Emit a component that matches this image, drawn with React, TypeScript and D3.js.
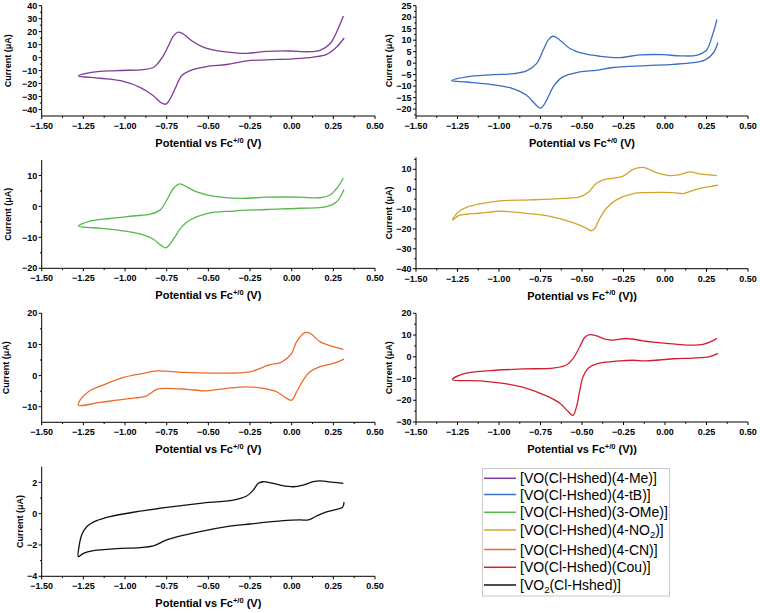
import React from 'react';
import * as d3 from 'd3';

const FONT = '"Liberation Sans", Arial, Helvetica, sans-serif';

// ---- Data: [potential (V vs Fc+/0), current (µA)] ----
const meUpper = [[-1.28,-14.1],[-1.21,-11.5],[-1.05,-10],[-0.89,-9.2],[-0.83,-7.6],[-0.8,-4],[-0.77,1.5],[-0.74,9],[-0.71,16.5],[-0.68,19.6],[-0.65,18.2],[-0.6,13],[-0.53,8],[-0.45,5.3],[-0.35,3.8],[-0.27,3.3],[-0.15,4.8],[-0.01,5.1],[0.09,4.5],[0.17,5.6],[0.23,10.7],[0.27,19.8],[0.31,32]];
const meLower = [[0.315,15.1],[0.27,8.2],[0.21,2.5],[0.13,0.4],[0.01,-0.9],[-0.15,-1.7],[-0.27,-2.5],[-0.39,-5.3],[-0.51,-6.9],[-0.61,-10],[-0.66,-14],[-0.7,-24],[-0.73,-32],[-0.755,-35.9],[-0.785,-34.6],[-0.83,-29.4],[-0.91,-22.9],[-1.01,-18.3],[-1.15,-15.9],[-1.28,-14.1]];

const tbUpper = [[-1.285,-7.6],[-1.195,-6.0],[-1.055,-5.1],[-0.914,-4.6],[-0.834,-3.4],[-0.774,-0.2],[-0.734,5.6],[-0.704,10],[-0.674,11.7],[-0.633,10],[-0.573,6.4],[-0.493,4.2],[-0.393,3.0],[-0.272,2.4],[-0.152,3.6],[-0.012,3.7],[0.089,3.2],[0.189,3.4],[0.249,5.6],[0.289,12.9],[0.313,19.0]];
const tbLower = [[0.319,9.0],[0.289,4.2],[0.239,1.3],[0.169,0.2],[0.049,-0.5],[-0.112,-1.1],[-0.312,-1.9],[-0.413,-3.1],[-0.513,-3.8],[-0.623,-6.3],[-0.674,-10.4],[-0.714,-16.2],[-0.748,-19.6],[-0.774,-18.4],[-0.834,-14.0],[-0.934,-10.7],[-1.055,-9.2],[-1.195,-8.2],[-1.285,-7.6]];

const omeUpper = [[-1.28,-6.4],[-1.22,-4.9],[-1.09,-3.9],[-0.95,-3.1],[-0.85,-2.5],[-0.79,-1.2],[-0.75,2.0],[-0.71,5.8],[-0.67,7.3],[-0.63,6.3],[-0.57,4.7],[-0.47,3.3],[-0.31,2.6],[-0.15,3.0],[0.05,3.0],[0.17,2.8],[0.23,3.7],[0.27,5.8],[0.31,9.2]];
const omeLower = [[0.314,5.5],[0.27,1.5],[0.21,-0.1],[0.05,-0.6],[-0.15,-1.0],[-0.35,-1.5],[-0.51,-2.3],[-0.61,-4.4],[-0.66,-6.6],[-0.71,-10.6],[-0.755,-13.4],[-0.785,-12.5],[-0.83,-10.6],[-0.91,-8.9],[-1.05,-7.6],[-1.19,-6.9],[-1.28,-6.4]];

const no2Upper = [[-1.28,-15.5],[-1.26,-12.8],[-1.23,-10.5],[-1.195,-9.1],[-1.115,-7.4],[-0.994,-5.9],[-0.814,-5.4],[-0.613,-4.6],[-0.513,-3.8],[-0.463,-1.7],[-0.413,3.0],[-0.363,5.0],[-0.313,5.5],[-0.252,6.6],[-0.192,10],[-0.132,11.0],[-0.052,8.3],[0.029,6.8],[0.089,7.3],[0.149,8.7],[0.209,7.7],[0.313,6.8]];
const no2Lower = [[0.319,2.1],[0.269,1.3],[0.209,0.4],[0.149,-1.2],[0.109,-2.2],[0.049,-1.7],[-0.032,-1.6],[-0.112,-1.7],[-0.192,-2.2],[-0.293,-5.4],[-0.353,-9.6],[-0.393,-14.7],[-0.423,-19.7],[-0.443,-20.9],[-0.483,-19.2],[-0.573,-16.3],[-0.714,-13.3],[-0.874,-11.8],[-0.994,-11.1],[-1.115,-12.1],[-1.195,-12.6],[-1.24,-13.2],[-1.28,-15.5]];

const cnUpper = [[-1.28,-9.5],[-1.27,-7.9],[-1.22,-5.2],[-1.13,-3.0],[-1.01,-0.6],[-0.89,0.7],[-0.81,1.5],[-0.65,1.0],[-0.45,0.8],[-0.25,1.2],[-0.19,2.3],[-0.13,3.5],[-0.07,4.1],[-0.03,5.5],[0.0,7.1],[0.03,10.9],[0.08,13.8],[0.11,13.6],[0.17,10.9],[0.25,9.3],[0.31,8.4]];
const cnLower = [[0.314,5.3],[0.25,3.9],[0.17,2.9],[0.11,1.2],[0.07,-1.4],[0.03,-5.2],[0.0,-7.9],[-0.03,-7.3],[-0.09,-5.2],[-0.17,-4.1],[-0.27,-3.6],[-0.39,-4.1],[-0.51,-4.9],[-0.63,-4.4],[-0.75,-4.1],[-0.81,-4.4],[-0.87,-6.5],[-0.99,-7.5],[-1.15,-8.6],[-1.28,-9.5]];

const couUpper = [[-1.28,-10.5],[-1.215,-7.9],[-1.055,-6.4],[-0.854,-5.6],[-0.674,-5.2],[-0.593,-3.8],[-0.553,-0.7],[-0.513,4.7],[-0.483,9.0],[-0.453,10.2],[-0.413,9.6],[-0.353,8.0],[-0.313,7.7],[-0.232,8.4],[-0.132,7.3],[-0.072,6.7],[0.009,6.2],[0.129,5.4],[0.229,5.7],[0.289,7.4],[0.313,8.5]];
const couLower = [[0.319,1.6],[0.269,0.1],[0.169,-0.6],[0.049,-0.9],[-0.112,-1.9],[-0.192,-1.6],[-0.272,-1.9],[-0.413,-3.3],[-0.463,-5.3],[-0.493,-9.1],[-0.513,-15.3],[-0.533,-22.9],[-0.555,-27.0],[-0.583,-25.2],[-0.633,-21.4],[-0.714,-18.0],[-0.834,-14.5],[-0.954,-12.5],[-1.115,-11.1],[-1.28,-10.5]];

const vo2Upper = [[-1.28,-2.74],[-1.276,-2.1],[-1.26,-1.36],[-1.23,-0.83],[-1.17,-0.45],[-1.09,-0.19],[-0.95,0.09],[-0.75,0.40],[-0.55,0.66],[-0.35,0.87],[-0.27,1.13],[-0.23,1.51],[-0.2,1.94],[-0.17,2.04],[-0.13,1.98],[-0.07,1.83],[0.01,1.72],[0.07,1.83],[0.13,2.04],[0.17,2.09],[0.25,2.0],[0.31,1.94]];
const vo2Lower = [[0.314,0.75],[0.306,0.42],[0.25,0.23],[0.19,0.04],[0.15,-0.15],[0.1,-0.4],[0.05,-0.4],[-0.05,-0.45],[-0.25,-0.66],[-0.39,-0.83],[-0.55,-1.15],[-0.75,-1.68],[-0.83,-2.06],[-0.91,-2.17],[-1.05,-2.23],[-1.19,-2.36],[-1.25,-2.53],[-1.28,-2.74]];

const seriesNames = [
  '[VO(Cl-Hshed)(4-Me)]',
  '[VO(Cl-Hshed)(4-tB)]',
  '[VO(Cl-Hshed)(3-OMe)]',
  '[VO(Cl-Hshed)(4-NO|2|)]',
  '[VO(Cl-Hshed)(4-CN)]',
  '[VO(Cl-Hshed)(Cou)]',
  '[VO|2|(Cl-Hshed)]',
];
const seriesColors = ['#7E3C98', '#3A6DC4', '#55B74B', '#D3A32B', '#EE6B2C', '#D21E2E', '#111111'];

const xTickValues = [-1.5, -1.25, -1.0, -0.75, -0.5, -0.25, 0, 0.25, 0.5];
const xMinorValues = [-1.375, -1.125, -0.875, -0.625, -0.375, -0.125, 0.125, 0.375];

// ---- Layout ----
const LX = [41.7, 375];
const RX = [416, 748];

const panels = [
  { upper: meUpper, lower: meLower, c: 0, x: LX, top: 5.7, bottom: 116, yMin: -45, yMax: 40, major: 10, minor: 5, yLabelX: 7.5, close: '' },
  { upper: tbUpper, lower: tbLower, c: 1, x: RX, top: 5.7, bottom: 116, yMin: -23, yMax: 25, major: 5, minor: 2.5, yLabelX: 388.5, close: '' },
  { upper: omeUpper, lower: omeLower, c: 2, x: LX, top: 160, bottom: 268.3, yMin: -20, yMax: 15, major: 10, minor: 5, yLabelX: 7.5, close: '' },
  { upper: no2Upper, lower: no2Lower, c: 3, x: RX, top: 157.4, bottom: 268.7, yMin: -40, yMax: 16, major: 10, minor: 5, yLabelX: 388.5, close: ')' },
  { upper: cnUpper, lower: cnLower, c: 4, x: LX, top: 313.3, bottom: 422.3, yMin: -15, yMax: 20, major: 10, minor: 5, yLabelX: 6, close: '' },
  { upper: couUpper, lower: couLower, c: 5, x: RX, top: 313.3, bottom: 422, yMin: -30, yMax: 20, major: 10, minor: 5, yLabelX: 388.5, close: ')' },
  { upper: vo2Upper, lower: vo2Lower, c: 6, x: LX, top: 466.7, bottom: 576.3, yMin: -4, yMax: 3, major: 2, minor: 1, yLabelX: 20, close: '' },
];

const fmtX = d3.format('.2f');
const fmtY = d3.format('d');

function Panel({ p }: { p: any }) {
  const xs = d3.scaleLinear().domain([-1.5, 0.5]).range(p.x);
  const ys = d3.scaleLinear().domain([p.yMin, p.yMax]).range([p.bottom, p.top]);
  const pts = [...p.lower, ...p.upper.slice(1)];
  const line = d3.line<number[]>().x(d => xs(d[0])).y(d => ys(d[1])).curve(d3.curveCatmullRom.alpha(0.5));
  const eps = 1e-9;
  const yMaj = d3.range(Math.ceil(p.yMin / p.major) * p.major, p.yMax + eps, p.major);
  const yMin = d3.range(Math.ceil(p.yMin / p.minor) * p.minor, p.yMax + eps, p.minor)
    .filter(v => Math.abs(v / p.major - Math.round(v / p.major)) > 1e-6 && v > p.yMin + eps && v < p.yMax - eps);
  const x0 = p.x[0];
  const midX = (p.x[0] + p.x[1]) / 2;
  const midY = (p.top + p.bottom) / 2;
  return (
    <g>
      <path d={line(pts) || ''} fill="none" stroke={seriesColors[p.c]} strokeWidth={1.3} strokeLinejoin="round" />
      <line x1={x0} x2={p.x[1]} y1={p.bottom} y2={p.bottom} stroke="#000" strokeWidth={1} />
      <line x1={x0} x2={x0} y1={p.top} y2={p.bottom} stroke="#000" strokeWidth={1} />
      {xTickValues.map(v => (
        <g key={'xt' + v}>
          <line x1={xs(v)} x2={xs(v)} y1={p.bottom} y2={p.bottom + 3} stroke="#000" />
          <text x={xs(v)} y={p.bottom + 12.8} textAnchor="middle" fontSize={9} fontWeight="bold" fontFamily={FONT}>{fmtX(v)}</text>
        </g>
      ))}
      {xMinorValues.map(v => (
        <line key={'xm' + v} x1={xs(v)} x2={xs(v)} y1={p.bottom} y2={p.bottom + 1.8} stroke="#000" />
      ))}
      {yMaj.map(v => (
        <g key={'yt' + v}>
          <line x1={x0 - 3} x2={x0} y1={ys(v)} y2={ys(v)} stroke="#000" />
          <text x={x0 - 4.5} y={ys(v)} dy="0.35em" textAnchor="end" fontSize={9} fontWeight="bold" fontFamily={FONT}>{fmtY(v)}</text>
        </g>
      ))}
      {yMin.map(v => (
        <line key={'ym' + v} x1={x0 - 1.8} x2={x0} y1={ys(v)} y2={ys(v)} stroke="#000" />
      ))}
      <text x={midX} y={p.bottom + 31} textAnchor="middle" fontSize={11} fontWeight="bold" fontFamily={FONT}>
        Potential vs Fc<tspan fontSize={7.5} dy={-4.5}>+/0</tspan><tspan dy={4.5}> (V){p.close}</tspan>
      </text>
      <text transform={`translate(${p.yLabelX},${midY}) rotate(-90)`} dy="0.35em" textAnchor="middle" fontSize={9} fontWeight="bold" fontFamily={FONT}>Current (μA)</text>
    </g>
  );
}

function LegendLabel({ s, y }: { s: string; y: number }) {
  const parts = s.split('|');
  return (
    <text x={520} y={y + 5} fontSize={14} fontFamily={FONT} fill="#000">
      {parts.map((t, i) => i % 2 === 1
        ? <tspan key={i} fontSize={9.5} dy={3}>{t}</tspan>
        : <tspan key={i} dy={i === 0 ? 0 : -3}>{t}</tspan>)}
    </text>
  );
}

const legendRows = [478.3, 494.5, 512.3, 530, 549.5, 567.3, 585];

export default function App() {
  return (
    <svg width={760} height={613} style={{ position: 'absolute', left: 0, top: 0, background: '#fff' }}>
      <rect x={0} y={0} width={760} height={613} fill="#fff" />
      {panels.map((p, i) => <Panel key={i} p={p} />)}
      <rect x={482.5} y={468.5} width={187} height={127.5} fill="#fff" stroke="#c8c8c8" strokeWidth={1} />
      {seriesNames.map((s, i) => (
        <g key={s}>
          <line x1={484} x2={516} y1={legendRows[i]} y2={legendRows[i]} stroke={seriesColors[i]} strokeWidth={1.5} />
          <LegendLabel s={s} y={legendRows[i]} />
        </g>
      ))}
    </svg>
  );
}
